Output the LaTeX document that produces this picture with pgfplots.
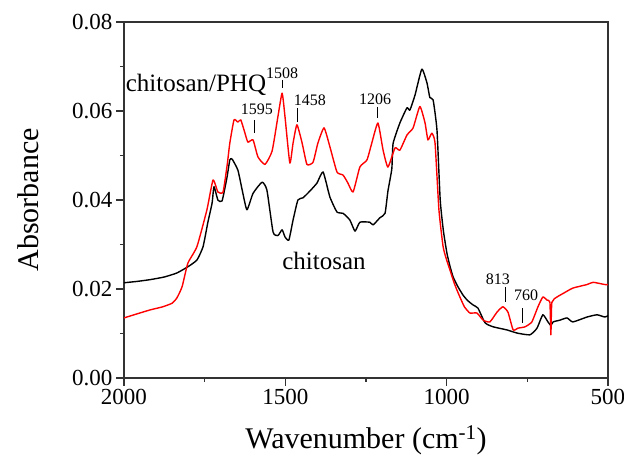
\documentclass[border=0pt]{standalone}
\usepackage{fontspec}
\setmainfont{Liberation Serif}
\usepackage{pgfplots}
\pgfplotsset{compat=1.18}

\pgfplotstableread{
x y
2000 0.0214
1960 0.0217
1919 0.0221
1875 0.0227
1836 0.0236
1802 0.0250
1774 0.0265
1755 0.0295
1740 0.0350
1727 0.0393
1721 0.0430
1709 0.0400
1696 0.0398
1681 0.0450
1672 0.0490
1665 0.0492
1647 0.0467
1633 0.0420
1619 0.0378
1600 0.0415
1572 0.0440
1557 0.0422
1538 0.0328
1523 0.0320
1510 0.0333
1501 0.0317
1489 0.0310
1476 0.0355
1461 0.0400
1445 0.0405
1424 0.0420
1402 0.0438
1383 0.0463
1362 0.0407
1340 0.0373
1321 0.0370
1300 0.0355
1284 0.0330
1269 0.0350
1238 0.0350
1228 0.0344
1207 0.0360
1191 0.0370
1182 0.0420
1170 0.0470
1166 0.0527
1145 0.0573
1123 0.0607
1114 0.0602
1098 0.0636
1077 0.0694
1061 0.0663
1052 0.0630
1042 0.0625
1030 0.0557
1020 0.0400
1010 0.0330
999 0.0280
990 0.0252
980 0.0227
965 0.0205
949 0.0186
935 0.0174
918 0.0164
903 0.0157
881 0.0124
856 0.0115
813 0.0108
782 0.0101
742 0.0097
720 0.0112
702 0.0142
686 0.0126
677 0.0118
670 0.0126
649 0.0130
627 0.0135
609 0.0126
565 0.0137
534 0.0142
510 0.0137
500 0.0140
}\chitosan

\pgfplotstableread{
x y
2000 0.0135
1960 0.0144
1919 0.0153
1880 0.0160
1851 0.0168
1836 0.0180
1820 0.0205
1802 0.0258
1774 0.0295
1743 0.0378
1724 0.0445
1709 0.0418
1693 0.0418
1680 0.0480
1672 0.0528
1659 0.0580
1647 0.0575
1638 0.0580
1625 0.0550
1616 0.0530
1600 0.0535
1585 0.0497
1563 0.0480
1541 0.0510
1523 0.0587
1510 0.0640
1501 0.0587
1486 0.0483
1476 0.0528
1464 0.0569
1448 0.0528
1433 0.0480
1414 0.0485
1399 0.0528
1380 0.0562
1362 0.0520
1340 0.0463
1321 0.0456
1306 0.0438
1290 0.0418
1269 0.0474
1247 0.0490
1232 0.0528
1213 0.0573
1197 0.0512
1182 0.0474
1160 0.0517
1145 0.0512
1123 0.0546
1104 0.0562
1083 0.0610
1067 0.0573
1058 0.0535
1046 0.0550
1036 0.0528
1024 0.0378
1011 0.0295
1000 0.0265
990 0.0243
975 0.0210
959 0.0182
945 0.0160
928 0.0146
906 0.0146
887 0.0130
866 0.0126
844 0.0148
826 0.0160
810 0.0148
794 0.0108
779 0.0112
757 0.0115
736 0.0126
717 0.0160
702 0.0182
689 0.0175
680 0.0170
677 0.0097
674 0.0170
658 0.0182
639 0.0190
609 0.0202
565 0.0210
546 0.0215
510 0.0210
500 0.0210
}\phq

\begin{document}
\begin{tikzpicture}
\begin{axis}[
  scale only axis, width=484pt, height=356pt,
  x dir=reverse, xmin=500, xmax=2000, ymin=0, ymax=0.08,
  xtick={500,1000,1500,2000}, ytick={0,0.02,0.04,0.06,0.08},
  minor tick num=1,
  tick align=outside, tick pos=left,
  major tick length=8pt, minor tick length=4pt,
  axis line style={line width=1.3pt, black!80},
  every tick/.style={line width=1.2pt, black!80},
  xticklabel={\textrm{\pgfmathprintnumber[assume math mode=true,1000 sep={}]{\tick}}},
  yticklabel={\textrm{\pgfmathprintnumber[assume math mode=true,fixed,fixed zerofill,precision=2]{\tick}}},
  tick label style={font=\fontsize{23}{23}\selectfont},
  scaled y ticks=false,
  xlabel={Wavenumber (cm\textsuperscript{-1})}, ylabel={Absorbance},
  label style={font=\fontsize{30}{30}\selectfont},
  xlabel style={at={(axis description cs:0.5,-0.174)}, anchor=center},
  ylabel style={at={(axis description cs:-0.198,0.5)}, anchor=center},
  clip=false,
]
\addplot[black, line width=1.4pt, line join=round, smooth, tension=0.3] table[x=x,y=y] {\chitosan};
\addplot[red, line width=1.4pt, line join=round, smooth, tension=0.3] table[x=x,y=y] {\phq};

\node[anchor=base, font=\fontsize{25}{25}\selectfont] at (axis cs:1777,0.0643) {chitosan/PHQ};
\node[anchor=base, font=\fontsize{25}{25}\selectfont] at (axis cs:1380,0.0243) {chitosan};

\begin{scope}[font=\fontsize{16}{16}\selectfont, inner sep=0pt]
\node[anchor=base] at (axis cs:1588,0.0591) {1595};
\node[anchor=base] at (axis cs:1510,0.0674) {1508};
\node[anchor=base] at (axis cs:1424,0.0613) {1458};
\node[anchor=base] at (axis cs:1222,0.0615) {1206};
\node[anchor=base] at (axis cs:841,0.0209) {813};
\node[anchor=base] at (axis cs:754,0.0175) {760};
\end{scope}
\draw[black, line width=1pt] (axis cs:1597,0.0580) -- (axis cs:1597,0.0550);
\draw[black, line width=1pt] (axis cs:1510,0.0670) -- (axis cs:1510,0.0652);
\draw[black, line width=1pt] (axis cs:1461,0.0607) -- (axis cs:1461,0.0575);
\draw[black, line width=1pt] (axis cs:1213,0.0609) -- (axis cs:1213,0.0584);
\draw[black, line width=1pt] (axis cs:819,0.0205) -- (axis cs:819,0.0171);
\draw[black, line width=1pt] (axis cs:764,0.0157) -- (axis cs:764,0.0124);
\end{axis}
\pgfresetboundingbox
\path[use as bounding box] ([shift={(-124pt,-85pt)}]current axis.south west) rectangle ([shift={(16pt,22pt)}]current axis.north east);
\end{tikzpicture}
\end{document}
